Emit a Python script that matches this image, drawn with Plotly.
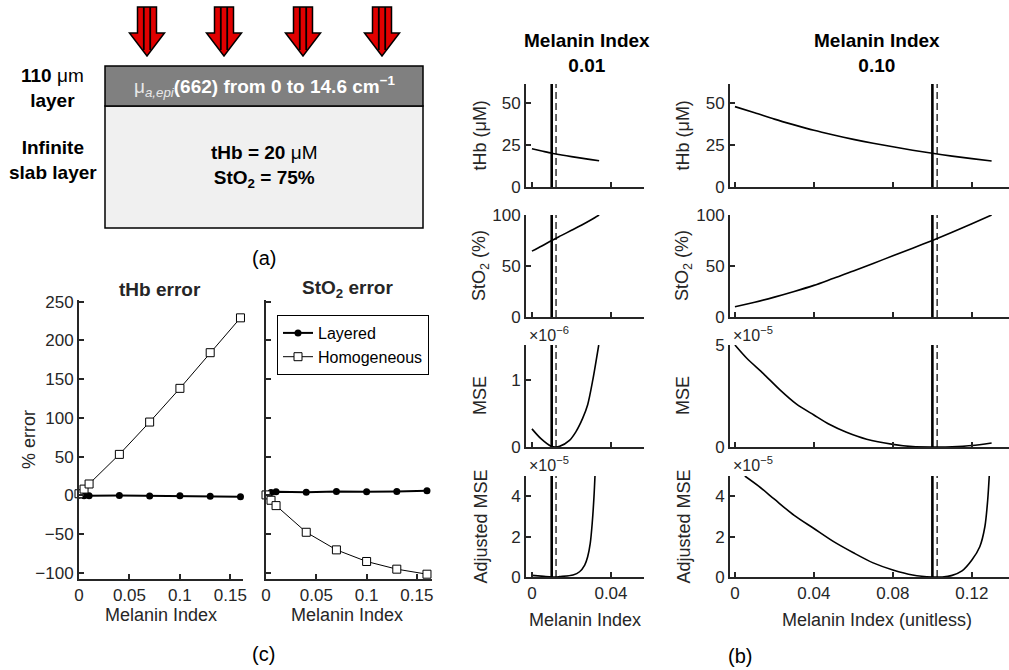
import plotly.graph_objects as go

W, H = 1009, 670
FONT = "Liberation Sans, Arial, sans-serif"
AX = "#262626"

# ---------------- Panel (c) data ----------------
mi_c = [0, 0.005, 0.01, 0.04, 0.07, 0.10, 0.13, 0.16]
thb_err_layered = [0, -0.5, -0.6, -0.4, -0.9, -0.7, -1.1, -1.8]
thb_err_homog = [2, 8, 14.6, 52.8, 94.5, 138, 184, 229]
sto2_err_layered = [1, 3.5, 4.5, 4.0, 5.0, 4.5, 5.0, 6.0]
sto2_err_homog = [0.5, -6.4, -13.3, -47.7, -70.4, -85.4, -95.3, -101.8]
c_xticks = [0, 0.05, 0.1, 0.15]
c_xticktext = ["0", "0.05", "0.1", "0.15"]
c_yticks = [-100, -50, 0, 50, 100, 150, 200, 250]

# ---------------- Panel (b) data ----------------
true_mi = [0.01, 0.10]
fit_mi = [0.0122, 0.1024]

# column 1 (melanin index 0.01)
mi1_thb = [0, 0.005, 0.01, 0.015, 0.02, 0.025, 0.03, 0.034]
thb1 = [22.6, 21.3, 20.0, 19.0, 18.0, 17.1, 16.2, 15.5]
mi1_sto2 = [0, 0.005, 0.01, 0.015, 0.02, 0.025, 0.03, 0.034]
sto21 = [64.6, 69.6, 75.0, 80.0, 85.0, 90.0, 95.4, 100.0]
mi1_mse = [0, 0.0047, 0.0098, 0.012, 0.014, 0.019, 0.0223, 0.0257, 0.0282, 0.0308, 0.0338]
mse1 = [0.27e-6, 0.12e-6, 0.01e-6, 0.0, 0.01e-6, 0.10e-6, 0.23e-6, 0.43e-6, 0.63e-6, 1.0e-6, 1.52e-6]
mi1_adj = [0, 0.006, 0.010, 0.012, 0.014, 0.0208, 0.0241, 0.0267, 0.0282, 0.0295, 0.0305, 0.0314, 0.0319]
adj1 = [0.08e-5, 0.03e-5, 0.0, 0.0, 0.02e-5, 0.10e-5, 0.26e-5, 0.59e-5, 1.0e-5, 1.66e-5, 2.66e-5, 3.98e-5, 5.0e-5]

# column 2 (melanin index 0.10)
mi2_thb = [0, 0.01, 0.02, 0.03, 0.04, 0.05, 0.06, 0.07, 0.08, 0.09, 0.10, 0.11, 0.12, 0.13]
thb2 = [47.6, 44.0, 40.2, 36.8, 33.6, 30.8, 28.2, 25.9, 23.8, 21.8, 20.0, 18.3, 16.8, 15.4]
mi2_sto2 = [0, 0.01, 0.02, 0.03, 0.04, 0.05, 0.06, 0.07, 0.08, 0.09, 0.10, 0.11, 0.12, 0.13]
sto22 = [10, 14.5, 19.5, 25, 31, 38, 45, 52.5, 60, 67.5, 75, 83, 91.5, 100]
mi2_mse = [0, 0.006, 0.0144, 0.0228, 0.0312, 0.04, 0.048, 0.0565, 0.0667, 0.08, 0.09, 0.10, 0.11, 0.12, 0.13]
mse2 = [5.0e-5, 4.35e-5, 3.6e-5, 2.8e-5, 2.1e-5, 1.57e-5, 1.1e-5, 0.72e-5, 0.38e-5, 0.13e-5,
        0.02e-5, 0.0, 0.01e-5, 0.07e-5, 0.2e-5]
mi2_adj = [0.005, 0.012, 0.02, 0.03, 0.04, 0.05, 0.06, 0.07, 0.08, 0.09, 0.10, 0.105, 0.11,
           0.115, 0.12, 0.124, 0.1266, 0.128, 0.1288]
adj2 = [5.0e-5, 4.5e-5, 3.85e-5, 3.05e-5, 2.4e-5, 1.75e-5, 1.2e-5, 0.7e-5, 0.35e-5, 0.1e-5, 0.0,
        0.0, 0.08e-5, 0.3e-5, 0.84e-5, 1.5e-5, 2.5e-5, 3.8e-5, 5.0e-5]


def xd(a, b):
    return [a / W, b / W]


def yd(top, bottom):
    return [1 - bottom / H, 1 - top / H]


def fx(p):
    return p / W


def fy(p):
    return 1 - p / H


fig = go.Figure()

# ---- panel (c) traces ----
for ax, lay, hom, show in [("", thb_err_layered, thb_err_homog, False),
                           ("2", sto2_err_layered, sto2_err_homog, True)]:
    fig.add_trace(go.Scatter(x=mi_c, y=lay, mode="lines+markers", name="Layered",
                             line=dict(color="black", width=2),
                             marker=dict(symbol="circle", size=7, color="black"),
                             xaxis="x" + ax, yaxis="y" + ax, showlegend=show, cliponaxis=False))
    fig.add_trace(go.Scatter(x=mi_c, y=hom, mode="lines+markers", name="Homogeneous",
                             line=dict(color="black", width=1),
                             marker=dict(symbol="square", size=8, color="white",
                                         line=dict(color="black", width=1)),
                             xaxis="x" + ax, yaxis="y" + ax, showlegend=show, cliponaxis=False))

# ---- panel (b) traces ----
b_curves = [
    (3, mi1_thb, thb1), (4, mi1_sto2, sto21), (5, mi1_mse, mse1), (6, mi1_adj, adj1),
    (7, mi2_thb, thb2), (8, mi2_sto2, sto22), (9, mi2_mse, mse2), (10, mi2_adj, adj2),
]
for n, xs, ys in b_curves:
    fig.add_trace(go.Scatter(x=xs, y=ys, mode="lines",
                             line=dict(color="black", width=1.6, shape="spline", smoothing=0.8),
                             xaxis=f"x{n}", yaxis=f"y{n}", showlegend=False))

# vertical lines (true and fitted melanin index)
shapes = []
for col, axes in enumerate([[3, 4, 5, 6], [7, 8, 9, 10]]):
    for n in axes:
        shapes.append(dict(type="line", xref=f"x{n}", yref=f"y{n} domain",
                           x0=true_mi[col], x1=true_mi[col], y0=0, y1=1,
                           line=dict(color="black", width=2.6)))
        shapes.append(dict(type="line", xref=f"x{n}", yref=f"y{n} domain",
                           x0=fit_mi[col], x1=fit_mi[col], y0=0, y1=1,
                           line=dict(color="black", width=1.2, dash="7px,4px")))

# ---------------- axes ----------------
base = dict(showline=True, linecolor=AX, linewidth=2, ticks="inside", ticklen=5,
            tickwidth=1.5, tickcolor=AX, showgrid=False, zeroline=False, automargin=False,
            tickfont=dict(family=FONT, size=17, color=AX), mirror=False)

layout = {}
c_ydom = yd(300, 579)
layout["xaxis"] = dict(base, domain=xd(79, 243), range=[0, 0.1625], tickvals=c_xticks,
                       ticktext=c_xticktext, anchor="y")
layout["yaxis"] = dict(base, domain=c_ydom, range=[-108, 252], tickvals=c_yticks, anchor="x")
layout["xaxis2"] = dict(base, domain=xd(266, 432), range=[0, 0.165], tickvals=c_xticks,
                        ticktext=c_xticktext, anchor="y2")
layout["yaxis2"] = dict(base, domain=c_ydom, range=[-108, 252], tickvals=c_yticks,
                        showticklabels=False, anchor="x2")

rows = [(84, 187), (215, 317), (345, 447), (476, 577)]
col_x = [xd(526, 644), xd(730, 1009)]
col_range = [[-0.003, 0.0567], [-0.0025, 0.1388]]
col_ticks = [[0, 0.04], [0, 0.04, 0.08, 0.12]]
col_ticktext = [["0", "0.04"], ["0", "0.04", "0.08", "0.12"]]
y_specs = [
    [([0, 61], [0, 25, 50], ["0", "25", "50"]),
     ([0, 100], [0, 50, 100], ["0", "50", "100"]),
     ([0, 1.52e-6], [0, 1e-6], ["0", "1"]),
     ([0, 5e-5], [0, 2e-5, 4e-5], ["0", "2", "4"])],
    [([0, 61], [0, 25, 50], ["0", "25", "50"]),
     ([0, 100], [0, 50, 100], ["0", "50", "100"]),
     ([0, 5e-5], [0, 5e-5], ["0", "5"]),
     ([0, 5e-5], [0, 2e-5, 4e-5], ["0", "2", "4"])],
]
for col in range(2):
    for r in range(4):
        n = 3 + col * 4 + r
        rng, tv, tt = y_specs[col][r]
        layout[f"xaxis{n}"] = dict(base, domain=col_x[col], range=col_range[col],
                                   tickvals=col_ticks[col], ticktext=col_ticktext[col],
                                   showticklabels=(r == 3), anchor=f"y{n}")
        layout[f"yaxis{n}"] = dict(base, domain=yd(*rows[r]), range=rng, tickvals=tv,
                                   ticktext=tt, anchor=f"x{n}")

# ---------------- panel (a) diagram ----------------
shapes.append(dict(type="rect", xref="paper", yref="paper", x0=fx(105), x1=fx(423),
                   y0=fy(228), y1=fy(106), fillcolor="#f0f0f0", line=dict(color="black", width=1.5)))
shapes.append(dict(type="rect", xref="paper", yref="paper", x0=fx(105), x1=fx(423),
                   y0=fy(106), y1=fy(66), fillcolor="#808080", line=dict(color="black", width=1.5)))

arrow_cx = [147, 224, 303, 382]
for cx in arrow_cx:
    pts = [(cx - 9.5, 7), (cx + 9.5, 7), (cx + 9.5, 33), (cx + 17.5, 33), (cx, 56),
           (cx - 17.5, 33), (cx - 9.5, 33)]
    path = "M " + " L ".join(f"{fx(a):.5f},{fy(b):.5f}" for a, b in pts) + " Z"
    shapes.append(dict(type="path", xref="paper", yref="paper", path=path,
                       fillcolor="#e00000", line=dict(color="black", width=1.5)))
    for dx in (-3.2, 3.2):
        shapes.append(dict(type="line", xref="paper", yref="paper", x0=fx(cx + dx), x1=fx(cx + dx),
                           y0=fy(7), y1=fy(50), line=dict(color="black", width=1.8)))

annotations = []


def ann(x, y, text, size=18, color="black", angle=0, xanchor="center", yanchor="middle"):
    annotations.append(dict(x=fx(x), y=fy(y), xref="paper", yref="paper", text=text,
                            showarrow=False, textangle=angle, xanchor=xanchor, yanchor=yanchor,
                            font=dict(family=FONT, size=size, color=color)))


ann(52, 88, "<b>110</b> μm<br><b>layer</b>", size=19)
ann(53, 160, "<b>Infinite</b><br><b>slab layer</b>", size=19)
ann(264, 87, "<span style='color:#e8e8e8'>μ<sub><i>a,epi</i></sub></span><b>(662) from 0 to 14.6 cm<sup>−1</sup></b>",
    size=19, color="white")
ann(264, 167, "<b>tHb = 20</b> μM<br><b>StO<sub>2</sub> = 75%</b>", size=19)
ann(264, 258, "(a)", size=20)

# panel (c) labels
ann(160, 289, "<b>tHb error</b>", size=19, color=AX)
ann(347, 289, "<b>StO<sub>2</sub> error</b>", size=19, color=AX)
ann(29, 440, "% error", angle=-90, color=AX)
ann(161, 615, "Melanin Index", color=AX)
ann(347, 615, "Melanin Index", color=AX)
ann(263, 654, "(c)", size=20)

# panel (b) labels
ann(587, 53, "<b>Melanin Index</b><br><b>0.01</b>", size=19, color="black")
ann(877, 53, "<b>Melanin Index</b><br><b>0.10</b>", size=19, color="black")
ylabels = ["tHb (μM)", "StO<sub>2</sub> (%)", "MSE", "Adjusted MSE"]
for r in range(4):
    yc = (rows[r][0] + rows[r][1]) / 2
    ann(480, yc, ylabels[r], color=AX, angle=-90)
    ann(683, yc, ylabels[r], color=AX, angle=-90)
ann(585, 620, "Melanin Index", color=AX)
ann(877, 620, "Melanin Index (unitless)", color=AX)
ann(740, 656, "(b)", size=20)
# exponent labels
ann(527, 334, "×10<sup>−6</sup>", size=16, color=AX, xanchor="left")
ann(731, 334, "×10<sup>−5</sup>", size=16, color=AX, xanchor="left")
ann(527, 464, "×10<sup>−5</sup>", size=16, color=AX, xanchor="left")
ann(731, 464, "×10<sup>−5</sup>", size=16, color=AX, xanchor="left")

fig.update_layout(
    width=W, height=H, margin=dict(l=0, r=0, t=0, b=0, pad=0, autoexpand=False),
    paper_bgcolor="white", plot_bgcolor="rgba(0,0,0,0)",
    font=dict(family=FONT, size=16, color=AX),
    shapes=shapes, annotations=annotations,
    legend=dict(x=fx(277), y=fy(315), xanchor="left", yanchor="top",
                bordercolor="black", borderwidth=1, bgcolor="white",
                font=dict(family=FONT, size=16, color="black"), tracegroupgap=0),
    **layout,
)

fig.write_html("out.html",
               post_script="document.body.style.margin='0px';"
                           "document.documentElement.style.overflow='hidden';")
